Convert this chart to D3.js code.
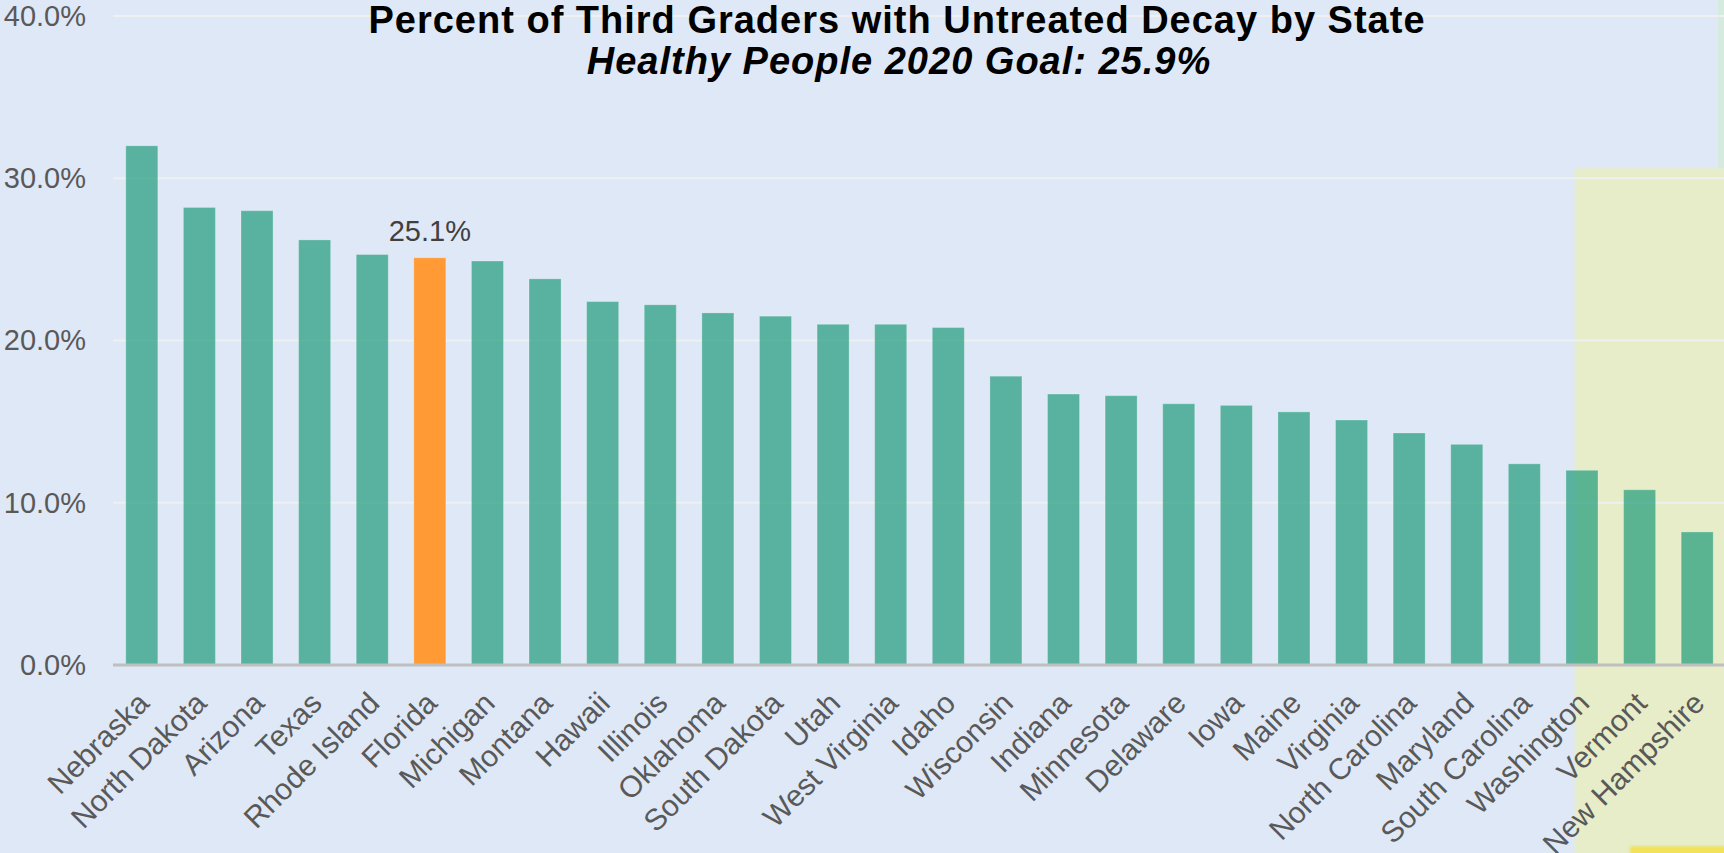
<!DOCTYPE html>
<html>
<head>
<meta charset="utf-8">
<script src="https://cdnjs.cloudflare.com/ajax/libs/d3/7.8.5/d3.min.js"></script>
<style>
  body { margin: 0; background: #dfe8f6; }
  svg { display: block; font-family: "Liberation Sans", Arial, sans-serif; }
</style>
</head>
<body>
<div id="chart"></div>
<script>
const width = 1724;
const height = 853;

// data (percent of third graders with untreated decay)
const states = ["Nebraska", "North Dakota", "Arizona", "Texas", "Rhode Island", "Florida",
    "Michigan", "Montana", "Hawaii", "Illinois", "Oklahoma", "South Dakota", "Utah",
    "West Virginia", "Idaho", "Wisconsin", "Indiana", "Minnesota", "Delaware", "Iowa",
    "Maine", "Virginia", "North Carolina", "Maryland", "South Carolina", "Washington",
    "Vermont", "New Hampshire"];
const values = [32.0, 28.2, 28.0, 26.2, 25.3, 25.1, 24.9, 23.8, 22.4, 22.2, 21.7, 21.5, 21.0,
    21.0, 20.8, 17.8, 16.7, 16.6, 16.1, 16.0, 15.6, 15.1, 14.3, 13.6, 12.4, 12.0, 10.8, 8.2];
const yTicks = [0, 10, 20, 30, 40];
const highlightState = "Florida";
const title = "Percent of Third Graders with Untreated Decay by State";
const subtitle = "Healthy People 2020 Goal: 25.9%";

const data = states.map((s, i) => ({ state: s, value: values[i] }));

const svg = d3.select("#chart")
    .append("svg")
    .attr("width", width)
    .attr("height", height);

svg.append("rect")
    .attr("width", width)
    .attr("height", height)
    .attr("fill", "#dfe8f6");

const x = d3.scaleBand()
    .domain(states)
    .range([113, 1726])
    .paddingInner(0.444)
    .paddingOuter(0.222);

const y = d3.scaleLinear()
    .domain([0, 40])
    .range([665, 16]);

// highlighter marks on the right side of the picture
const blur = svg.append("defs").append("filter").attr("id", "soft");
blur.append("feGaussianBlur").attr("stdDeviation", 1.5);

svg.append("rect")
    .attr("x", 1575).attr("y", 168)
    .attr("width", 160).attr("height", 700)
    .attr("fill", "#e6edc8")
    .attr("filter", "url(#soft)");
svg.append("rect")
    .attr("x", 1718).attr("y", 0)
    .attr("width", 10).attr("height", 168)
    .attr("fill", "#d7eadf");
svg.append("rect")
    .attr("x", 1630).attr("y", 846)
    .attr("width", 100).attr("height", 10)
    .attr("fill", "#f2e25a")
    .attr("filter", "url(#soft)");

// gridlines
svg.append("g")
    .selectAll("line")
    .data(yTicks.filter(d => d > 0))
    .enter()
    .append("line")
    .attr("x1", 113)
    .attr("x2", width)
    .attr("y1", d => y(d))
    .attr("y2", d => y(d))
    .attr("stroke", "#eef0f2")
    .attr("stroke-width", 2);

// y axis labels
const yAxis = svg.append("g")
    .attr("transform", "translate(86,0)")
    .call(d3.axisLeft(y).tickValues(yTicks).tickSize(0).tickPadding(0)
        .tickFormat(d => d.toFixed(1) + "%"));
yAxis.select(".domain").remove();
yAxis.selectAll("text")
    .attr("font-family", "Liberation Sans, Arial, sans-serif")
    .attr("font-size", 29)
    .attr("fill", "#595959");

// bars
svg.append("g")
    .selectAll("rect")
    .data(data)
    .enter()
    .append("rect")
    .attr("x", d => x(d.state))
    .attr("y", d => y(d.value))
    .attr("width", x.bandwidth())
    .attr("height", d => y(0) - y(d.value))
    .attr("fill", d => d.state === highlightState ? "#ff9a35" : "#1e9b7b")
    .attr("fill-opacity", d => d.state === highlightState ? 1 : 0.7)
    .attr("stroke", "#ffffff")
    .attr("stroke-opacity", 0.25)
    .attr("stroke-width", 1);

// value label on the highlighted bar
const hl = data.find(d => d.state === highlightState);
svg.append("text")
    .attr("x", x(hl.state) + x.bandwidth() / 2)
    .attr("y", y(hl.value) - 17)
    .attr("text-anchor", "middle")
    .attr("font-size", 29)
    .attr("fill", "#404040")
    .text(hl.value.toFixed(1) + "%");

// baseline
svg.append("line")
    .attr("x1", 113)
    .attr("x2", width)
    .attr("y1", y(0))
    .attr("y2", y(0))
    .attr("stroke", "#bfbfbf")
    .attr("stroke-width", 3);

// x axis labels, rotated
const xAxis = svg.append("g")
    .attr("transform", `translate(0,${y(0)})`)
    .call(d3.axisBottom(x).tickSize(0).tickPadding(0));
xAxis.select(".domain").remove();
xAxis.selectAll("text")
    .attr("font-family", "Liberation Sans, Arial, sans-serif")
    .attr("font-size", 30)
    .attr("fill", "#595959")
    .attr("text-anchor", "end")
    .attr("dy", null)
    .attr("y", null)
    .attr("transform", "translate(9,40) rotate(-45)");

// titles
svg.append("text")
    .attr("x", 897)
    .attr("y", 33)
    .attr("text-anchor", "middle")
    .attr("font-size", 38)
    .attr("font-weight", "bold")
    .attr("letter-spacing", 1)
    .attr("fill", "#000")
    .text(title);

svg.append("text")
    .attr("x", 899)
    .attr("y", 74)
    .attr("text-anchor", "middle")
    .attr("font-size", 38)
    .attr("font-weight", "bold")
    .attr("font-style", "italic")
    .attr("letter-spacing", 1)
    .attr("fill", "#000")
    .text(subtitle);
</script>
</body>
</html>
